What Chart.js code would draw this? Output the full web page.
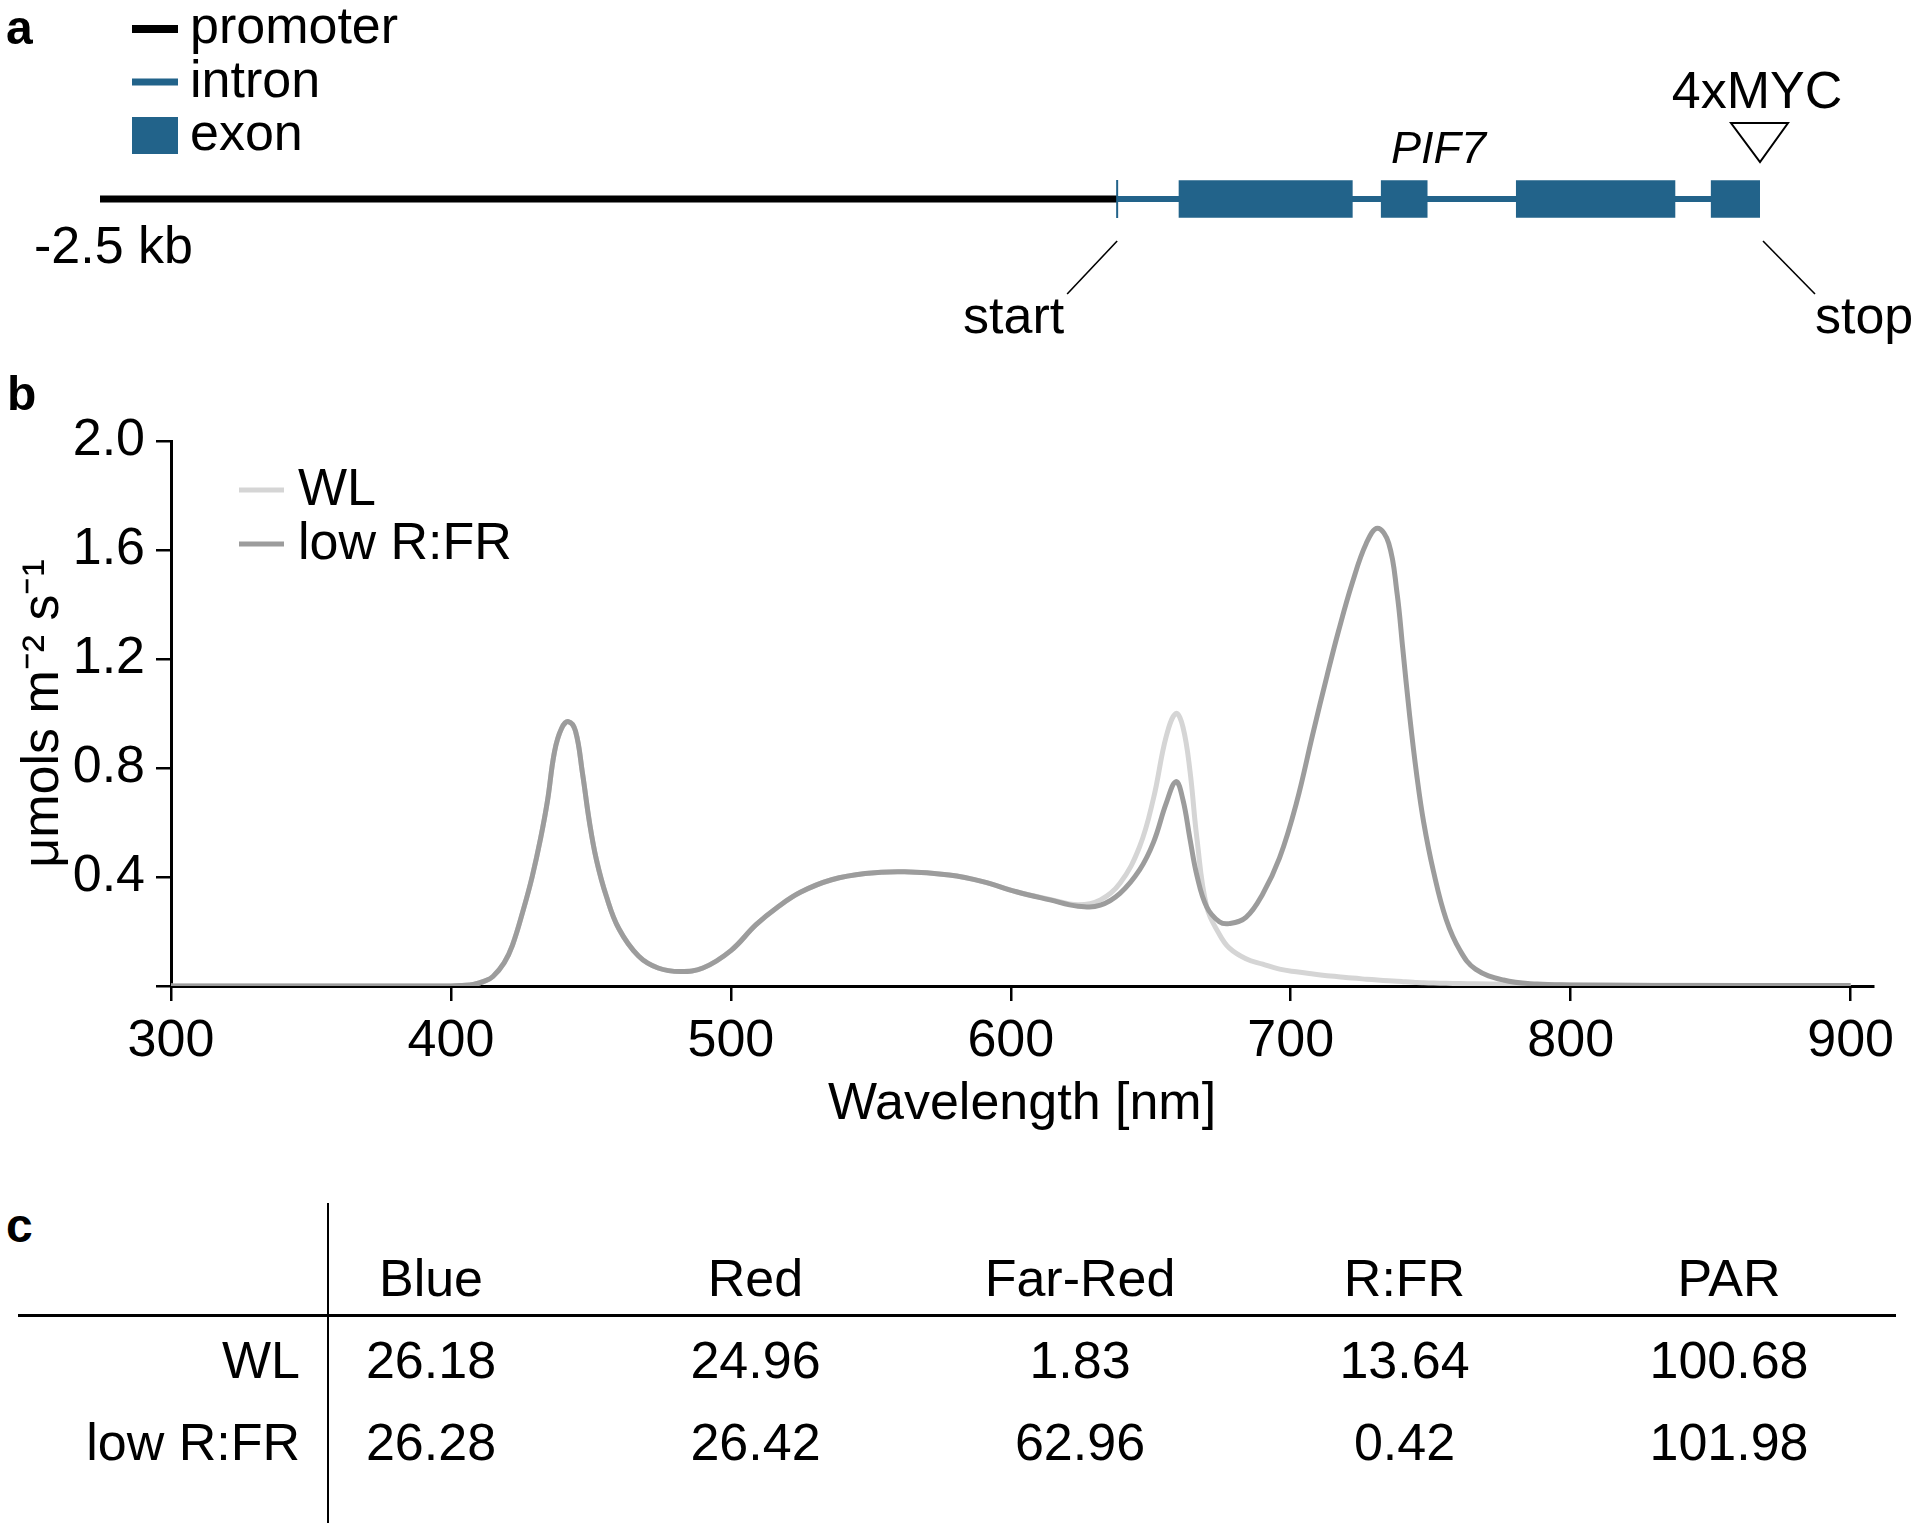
<!DOCTYPE html>
<html>
<head>
<meta charset="utf-8">
<script src="https://cdn.jsdelivr.net/npm/chart.js@4.4.0/dist/chart.umd.min.js"></script>
<style>
  html, body { margin: 0; padding: 0; background: #fff; }
  body { width: 1920px; height: 1527px; position: relative; overflow: hidden;
         font-family: "Liberation Sans", Arial, Helvetica, sans-serif; color: #000; }
  canvas { position: absolute; left: 0; }
  #gene { top: 0; }
  #spectrum { top: 350px; }
  .txt { position: absolute; white-space: nowrap; font-size: 52px; line-height: 1; }
  .panel { position: absolute; font-weight: bold; font-size: 48px; line-height: 1; }
  .rule { position: absolute; background: #000; }
</style>
</head>
<body>
<canvas id="gene" width="1920" height="350"></canvas>
<canvas id="spectrum" width="1920" height="800"></canvas>
<div class="panel" style="left:6px; top:4px;">a</div>
<div class="panel" style="left:7px; top:370px;">b</div>
<div class="panel" style="left:6px; top:1202px;">c</div>
<div id="table"></div>

<script>
const FONT = '"Liberation Sans", Arial, Helvetica, sans-serif';
const BLUE = '#22638a';

// --- a: gene model (positions in kb relative to start codon) ---
const promoterKb = [-2.5, 0];
const intronKb = [0, 1.58];
const exonStarts = [0.152, 0.649, 0.981, 1.460];
const exonEnds = [0.578, 0.762, 1.371, 1.580];
const geneLegend = ['promoter', 'intron', 'exon'];

// --- b: light spectra (nm, µmol m-2 s-1) ---
const wavelengths = [300, 350, 400, 404, 408, 412, 415, 419, 422, 426,
  429, 432, 434.5, 437, 439.5, 442, 444.5, 447, 449.5, 452,
  455.5, 460, 467, 474, 482, 490, 500, 509, 517, 525,
  536, 548, 562, 578, 590, 602, 614, 624, 632, 639,
  646, 651, 655.5, 659, 661.5, 664, 666.5, 670, 674.5, 678,
  684, 690, 696, 702, 708, 713, 717, 722, 727, 731,
  735, 738, 740, 742.5, 745, 747.5, 751, 755.5, 760.5, 766,
  776, 788, 800, 830, 860, 900];
const wlValues = [0, 0, 0, 0.002, 0.006, 0.018, 0.035, 0.085, 0.15, 0.285,
  0.4, 0.54, 0.68, 0.86, 0.945, 0.97, 0.935, 0.78, 0.6, 0.462,
  0.33, 0.21, 0.11, 0.066, 0.053, 0.066, 0.13, 0.225, 0.292, 0.345,
  0.39, 0.413, 0.419, 0.407, 0.383, 0.346, 0.318, 0.298, 0.316, 0.377,
  0.511, 0.69, 0.915, 1.0, 0.95, 0.79, 0.54, 0.29, 0.19, 0.14,
  0.1, 0.08, 0.062, 0.052, 0.044, 0.038, 0.034, 0.029, 0.025, 0.022,
  0.019, 0.017, 0.016, 0.015, 0.013, 0.012, 0.011, 0.01, 0.009, 0.008,
  0.006, 0.005, 0.004, 0.003, 0.002, 0.002];
const lowRfrValues = [0, 0, 0, 0.002, 0.006, 0.018, 0.035, 0.085, 0.15, 0.285,
  0.4, 0.54, 0.68, 0.86, 0.945, 0.97, 0.935, 0.78, 0.6, 0.462,
  0.33, 0.21, 0.11, 0.066, 0.053, 0.066, 0.13, 0.225, 0.292, 0.345,
  0.39, 0.413, 0.419, 0.407, 0.383, 0.346, 0.316, 0.293, 0.297, 0.34,
  0.426, 0.528, 0.67, 0.75, 0.683, 0.54, 0.405, 0.29, 0.236, 0.229,
  0.252, 0.338, 0.47, 0.67, 0.93, 1.14, 1.3, 1.48, 1.625, 1.68,
  1.625, 1.44, 1.24, 0.99, 0.775, 0.6, 0.42, 0.245, 0.13, 0.062,
  0.022, 0.007, 0.004, 0.002, 0.002, 0.002];
const seriesNames = ['WL', 'low R:FR'];
const xTickValues = [300, 400, 500, 600, 700, 800, 900];
const yTickValues = [0, 0.4, 0.8, 1.2, 1.6, 2.0];

// --- c: table ---
const tableColumns = ['Blue', 'Red', 'Far-Red', 'R:FR', 'PAR'];
const tableRowNames = ['WL', 'low R:FR'];
const wlTable = ['26.18', '24.96', '1.83', '13.64', '100.68'];
const lowRfrTable = ['26.28', '26.42', '62.96', '0.42', '101.98'];

// annotations for the gene model
const geneMarks = {
  id: 'geneMarks',
  afterDatasetsDraw(chart) {
    const { ctx, scales: { x, y } } = chart;
    const gy = y.getPixelForValue(0);
    const xs = x.getPixelForValue(intronKb[0]);
    const xe = x.getPixelForValue(exonEnds[exonEnds.length - 1]);
    const line = (x1, y1, x2, y2) => { ctx.beginPath(); ctx.moveTo(x1, y1); ctx.lineTo(x2, y2); ctx.stroke(); };
    ctx.save();
    // start mark
    ctx.strokeStyle = BLUE; ctx.lineWidth = 2;
    line(xs, gy - 19, xs, gy + 19);
    // leader lines
    ctx.strokeStyle = '#000'; ctx.lineWidth = 1.6;
    line(xs, gy + 42, xs - 50, gy + 95);
    line(xe + 3, gy + 42, xe + 55, gy + 95);
    // 4xMYC tag triangle
    ctx.beginPath();
    ctx.moveTo(xe - 29, gy - 76); ctx.lineTo(xe + 28, gy - 76); ctx.lineTo(xe, gy - 37); ctx.closePath();
    ctx.fillStyle = '#fff'; ctx.fill(); ctx.lineWidth = 2; ctx.stroke();
    // texts
    ctx.fillStyle = '#000'; ctx.textBaseline = 'alphabetic';
    ctx.font = '52px ' + FONT;
    ctx.textAlign = 'center'; ctx.fillText('4xMYC', xe - 3, gy - 91);
    ctx.textAlign = 'right'; ctx.fillText('start', xs - 53, gy + 134);
    ctx.textAlign = 'left'; ctx.fillText('stop', xe + 55, gy + 134);
    ctx.fillText('-2.5 kb', x.getPixelForValue(promoterKb[0]) - 66, gy + 64);
    ctx.font = 'italic 45px ' + FONT;
    ctx.textAlign = 'center';
    ctx.fillText('PIF7', x.getPixelForValue((intronKb[0] + intronKb[1]) / 2), gy - 36);
    // legend
    ctx.font = '52px ' + FONT; ctx.textAlign = 'left';
    ctx.strokeStyle = '#000'; ctx.lineWidth = 8; line(132, 29, 178, 29);
    ctx.strokeStyle = BLUE; ctx.lineWidth = 7; line(132, 82, 178, 82);
    ctx.fillStyle = BLUE; ctx.fillRect(132, 117, 46, 37);
    ctx.fillStyle = '#000';
    geneLegend.forEach((t, i) => ctx.fillText(t, 190, 43 + i * 53.5));
    ctx.restore();
  }
};

new Chart(document.getElementById('gene'), {
  type: 'scatter',
  data: {
    datasets: [
      {
        type: 'bar', label: 'exon', indexAxis: 'y', grouped: false,
        data: exonStarts.map((s, i) => ({ x: [s, exonEnds[i]], y: 0 })),
        backgroundColor: BLUE, borderWidth: 0, barThickness: 37, maxBarThickness: 37, order: 0
      },
      {
        type: 'scatter', label: 'intron', showLine: true,
        data: intronKb.map(v => ({ x: v, y: 0 })),
        borderColor: BLUE, borderWidth: 6, pointRadius: 0, order: 1
      },
      {
        type: 'scatter', label: 'promoter', showLine: true,
        data: promoterKb.map(v => ({ x: v, y: 0 })),
        borderColor: '#000', borderWidth: 7, pointRadius: 0, order: 2
      }
    ]
  },
  options: {
    responsive: false, animation: false,
    layout: { padding: { left: 100, right: 160, top: 48, bottom: 0 } },
    plugins: { legend: { display: false }, tooltip: { enabled: false } },
    scales: {
      x: { type: 'linear', min: -2.5, max: 1.58, display: false },
      y: { type: 'linear', min: -1, max: 1, display: false }
    }
  },
  plugins: [geneMarks]
});

// legend inside the spectrum plot
const specLegend = {
  id: 'specLegend',
  afterDatasetsDraw(chart) {
    const { ctx, chartArea } = chart;
    ctx.save();
    ctx.font = '52px ' + FONT;
    ctx.textBaseline = 'middle'; ctx.textAlign = 'left';
    chart.data.datasets.forEach((ds, i) => {
      const yy = chartArea.top + 49 + i * 54;
      ctx.strokeStyle = ds.borderColor; ctx.lineWidth = 5;
      ctx.beginPath(); ctx.moveTo(chartArea.left + 68, yy); ctx.lineTo(chartArea.left + 113, yy); ctx.stroke();
      ctx.fillStyle = '#000';
      ctx.fillText(ds.label, chartArea.left + 127, yy + 1);
    });
    ctx.restore();
  }
};

const axisFont = { size: 52, family: FONT };

new Chart(document.getElementById('spectrum'), {
  type: 'scatter',
  data: {
    datasets: [
      {
        label: seriesNames[0], showLine: true,
        data: wavelengths.map((w, i) => ({ x: w, y: wlValues[i] })),
        borderColor: '#d5d5d5', borderWidth: 5, pointRadius: 0,
        tension: 0.4, borderJoinStyle: 'round', order: 2
      },
      {
        label: seriesNames[1], showLine: true,
        data: wavelengths.map((w, i) => ({ x: w, y: lowRfrValues[i] })),
        borderColor: '#9c9c9c', borderWidth: 5, pointRadius: 0,
        tension: 0.4, borderJoinStyle: 'round', order: 1
      }
    ]
  },
  options: {
    responsive: false, animation: false,
    layout: { padding: { left: 8, right: 47, top: 91, bottom: 10 } },
    plugins: { legend: { display: false }, tooltip: { enabled: false } },
    scales: {
      x: {
        type: 'linear', min: 300, max: 908,
        afterBuildTicks: s => { s.ticks = xTickValues.map(v => ({ value: v })); },
        afterFit: s => { s.height = 154; },
        grid: { drawOnChartArea: false, drawTicks: true, tickLength: 15, color: '#000', lineWidth: 2.5 },
        border: { display: true, color: '#000', width: 3 },
        ticks: { color: '#000', font: axisFont, padding: 9, maxRotation: 0, autoSkip: false },
        title: { display: true, text: 'Wavelength [nm]', color: '#000', font: axisFont, padding: { top: 0, bottom: 4 } }
      },
      y: {
        type: 'linear', min: 0, max: 2,
        afterBuildTicks: s => { s.ticks = yTickValues.map(v => ({ value: v })); },
        afterFit: s => { s.width = 163; },
        grid: { drawOnChartArea: false, drawTicks: true, tickLength: 15, color: '#000', lineWidth: 2.5 },
        border: { display: true, color: '#000', width: 3 },
        ticks: { color: '#000', font: axisFont, padding: 11, callback: v => v === 0 ? '' : v.toFixed(1) },
        title: { display: true, text: 'μmols m⁻² s⁻¹', color: '#000', font: axisFont, padding: { top: 4, bottom: 0 } }
      }
    }
  },
  plugins: [specLegend]
});

// --- table (panel c) ---
const table = document.getElementById('table');
const addText = (txt, left, top, width, align) => {
  const d = document.createElement('div');
  d.className = 'txt';
  d.textContent = txt;
  d.style.left = left + 'px'; d.style.top = top + 'px';
  d.style.width = width + 'px'; d.style.textAlign = align;
  table.appendChild(d);
};
const addRule = (left, top, w, h) => {
  const d = document.createElement('div');
  d.className = 'rule';
  Object.assign(d.style, { left: left + 'px', top: top + 'px', width: w + 'px', height: h + 'px' });
  table.appendChild(d);
};
addRule(327, 1203, 2, 320);
addRule(18, 1314, 1878, 3);
const colX = i => 431 + i * 324.5;
tableColumns.forEach((c, i) => addText(c, colX(i) - 160, 1252, 320, 'center'));
[wlTable, lowRfrTable].forEach((row, r) => {
  const top = 1334 + r * 82;
  addText(tableRowNames[r], 0, top, 300, 'right');
  row.forEach((v, i) => addText(v, colX(i) - 160, top, 320, 'center'));
});
</script>
</body>
</html>
